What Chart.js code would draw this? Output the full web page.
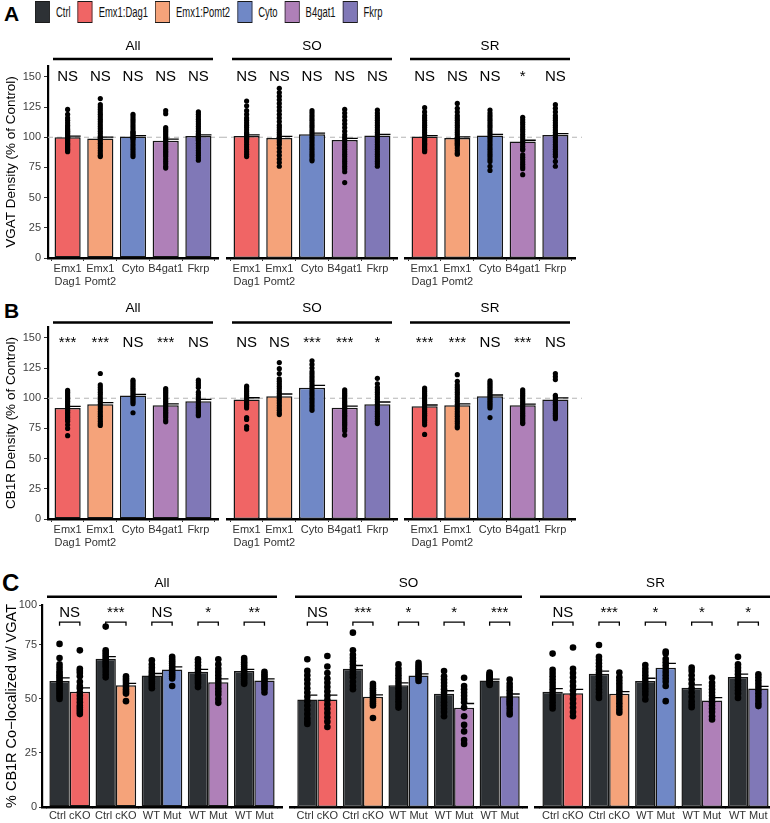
<!DOCTYPE html>
<html>
<head>
<meta charset="utf-8">
<script src="https://cdn.jsdelivr.net/npm/chart.js@4.4.1/dist/chart.umd.min.js"></script>
<style>
  html, body { margin: 0; padding: 0; background: #fff; }
  body { position: relative; width: 770px; height: 823px; overflow: hidden; font-family: "Liberation Sans", Arial, sans-serif; }
  canvas { position: absolute; }
  .tag { position: absolute; font-weight: bold; color: #000; line-height: 1; }
  #legend { position: absolute; left: 35px; top: 1px; display: flex; align-items: center; transform: scaleX(0.675); transform-origin: 0 0; white-space: nowrap; }
  #legend .sw { box-sizing: border-box; width: 22px; height: 22px; border: 1.5px solid #1a1a1a; margin-right: 9px; }
  #legend .tx { font-size: 14px; margin-right: 10.5px; color: #111; }
</style>
</head>
<body>
<div class="tag" style="left:4px;top:3px;font-size:21px">A</div>
<div class="tag" style="left:4px;top:300px;font-size:21px">B</div>
<div class="tag" style="left:2px;top:571px;font-size:24px">C</div>
<div id="legend"></div>
<script>
// categories / labels
const facets = ['All', 'SO', 'SR'];
const groups = [['Emx1', 'Dag1'], ['Emx1', 'Pomt2'], 'Cyto', 'B4gat1', 'Fkrp'];
const pairLabels = ['Ctrl cKO', 'Ctrl cKO', 'WT Mut', 'WT Mut', 'WT Mut'];
const legendLabels = ['Ctrl', 'Emx1:Dag1', 'Emx1:Pomt2', 'Cyto', 'B4gat1', 'Fkrp'];
const colors = ['#2d3135', '#f06565', '#f5a37a', '#7088c6', '#af80b8', '#8078b7'];
const yTicksAB = [0, 25, 50, 75, 100, 125, 150];
const yTicksC = ['0', '25', '50', '75', '100'];

// A: VGAT density (% of control)
const vgatAllMean = [100, 99, 100.6, 97.2, 101.1];
const vgatSoMean = [101, 99.4, 102.5, 97.8, 101.4];
const vgatSrMean = [100.6, 99.4, 101.4, 96.4, 101.9];
const vgatAllSem = [0.9, 1.1, 0.8, 1.2, 0.9];
const vgatSoSem = [1.0, 1.3, 0.9, 1.3, 1.0];
const vgatSrSem = [0.8, 0.9, 1.0, 1.1, 1.1];
const vgatAllSig = ['NS', 'NS', 'NS', 'NS', 'NS'];
const vgatSoSig = ['NS', 'NS', 'NS', 'NS', 'NS'];
const vgatSrSig = ['NS', 'NS', 'NS', '*', 'NS'];
const vgatAllDots = [
  [123, 119, 116, 114, 112, 110, 108.5, 107, 106, 105, 104, 103, 102, 101, 100, 99, 98, 97, 96, 95, 94, 93, 92, 91, 90, 89, 88],
  [132, 127, 125, 123, 121, 119, 117, 115, 113, 111, 109, 107, 105, 103, 101, 100, 99, 97, 95, 93, 91, 89, 87, 85, 84],
  [119, 117, 115, 113, 111, 109, 107, 105, 104, 103, 102, 101, 100, 99, 98, 96, 94, 92, 90, 88, 86, 84],
  [122, 119.5, 108, 106.5, 105, 103.5, 102, 100.5, 99, 97.5, 96, 94.5, 93, 91.5, 90, 88.5, 87, 85.5, 84, 82, 80, 78, 76, 74.5],
  [121, 119, 117, 115, 113, 111, 109, 107, 105, 103, 102, 101, 100, 99, 98, 97, 95, 93, 91, 89, 87, 85, 83, 81]
];
const vgatSoDots = [
  [130, 126, 122, 119, 116, 114, 112, 110, 108, 106, 104, 103, 102, 101, 100, 99, 98, 96, 94, 92, 90, 88, 86, 84],
  [140.5, 137, 134, 131, 128, 125, 122, 119, 116, 113, 110, 108, 106, 104, 102, 100, 98, 96, 94, 91, 88, 85, 82, 79, 76],
  [122, 120, 118, 116, 114, 112, 110, 108, 106, 104, 102, 100, 98, 96, 94, 92, 90, 88, 86, 84, 82, 80.5],
  [123, 120, 117, 114, 111, 108, 105, 102, 100, 98, 96, 94, 92, 90, 88, 86, 84, 82, 80, 78, 76, 74, 71.5, 62.5],
  [122.5, 120, 118, 116, 114, 112, 110, 108, 106, 104, 102, 100, 98, 96, 94, 92, 90, 88, 86, 84, 82, 80, 78, 76]
];
const vgatSrDots = [
  [124.5, 121, 118, 116, 114, 112, 110, 108, 106, 104, 102, 100, 99, 98, 97, 96, 95, 94, 93, 92, 91, 90, 89, 88],
  [128, 124, 121, 118, 116, 114, 112, 110, 108, 106, 104, 102, 100, 99, 98, 97, 96, 95, 94, 93, 91, 89, 87, 86],
  [122.5, 120, 118, 116, 114, 112, 110, 108, 106, 104, 102, 100, 98, 96, 94, 92, 90, 88, 86, 84, 82, 80, 76, 72.5],
  [116.5, 114.5, 112.5, 110.5, 108.5, 106.5, 104.5, 102.5, 100.5, 98.5, 96.5, 94.5, 92.5, 90.5, 89.5, 85.5, 83.5, 81.5, 79.5, 77.5, 75.5, 74, 69],
  [127, 124, 121, 118, 116, 114, 112, 110, 108, 106, 104, 102, 100, 98, 96, 94, 92, 90, 88, 86, 84, 80, 76]
];

// B: CB1R density (% of control)
const cb1rAllMean = [91.9, 95, 102.2, 94.2, 97.5];
const cb1rSoMean = [98.9, 101.7, 108.6, 92.2, 95];
const cb1rSrMean = [93.3, 94.2, 101.7, 94.2, 98.9];
const cb1rAllSem = [1.3, 1.4, 1.0, 1.1, 1.5];
const cb1rSoSem = [1.5, 1.8, 2.0, 1.3, 1.9];
const cb1rSrSem = [1.1, 1.2, 1.0, 0.9, 1.4];
const cb1rAllSig = ['***', '***', 'NS', '***', 'NS'];
const cb1rSoSig = ['NS', 'NS', '***', '***', '*'];
const cb1rSrSig = ['***', '***', 'NS', '***', 'NS'];
const cb1rAllDots = [
  [106.5, 105, 103.5, 102, 100.5, 99, 97.5, 96, 94.5, 93, 91.5, 90, 88.5, 87, 85.5, 84, 82.5, 81, 78, 75, 69],
  [120.5, 111, 109, 107, 105, 103, 101, 99, 97, 95, 93, 91, 89, 87, 85, 83, 81, 79, 77.5],
  [115, 113.5, 112, 110.5, 109, 107.5, 106, 104.5, 103, 101.5, 100, 98.5, 97, 95.5, 88],
  [108, 106.5, 105, 103.5, 102, 100.5, 99, 97.5, 96, 94.5, 93, 91.5, 90, 88.5, 87, 85.5, 84, 82, 80.5],
  [115, 113, 111, 109, 105, 103, 101, 99, 97, 95.5, 94, 92.5, 91, 89.5, 88, 86.5, 85.5]
];
const cb1rSoDots = [
  [110, 108.5, 107, 105.5, 104, 102.5, 101, 99.5, 98, 96.5, 95, 93.5, 92, 84, 82.5, 76.5, 74.5],
  [129.5, 124.5, 120.5, 116, 114, 112, 110, 108, 106, 104, 102, 100, 98, 96, 94, 92, 90, 88, 86.5],
  [131, 128, 125, 122, 120, 118, 116, 114, 112, 110, 108, 106, 104, 102, 100, 98, 96, 94, 92, 90],
  [107, 105.5, 104, 102.5, 101, 99.5, 98, 96.5, 95, 93.5, 92, 90.5, 89, 87.5, 86, 84.5, 83, 81.5, 80, 78.5, 77, 75, 73, 69.5],
  [116.5, 112, 109, 107, 105, 103, 101, 99, 97, 95, 93, 91, 89, 87, 85, 83, 81, 79]
];
const cb1rSrDots = [
  [108.5, 107, 105.5, 104, 102.5, 101, 99.5, 98, 96.5, 95, 93.5, 92, 90.5, 89, 87.5, 86, 84.5, 83, 81.5, 80, 78, 70],
  [119.5, 114, 111, 109, 107, 105, 103, 101, 99, 97, 95, 93, 91, 89, 87, 85, 83, 81, 79, 77, 75.5],
  [114.5, 113, 111.5, 110, 108.5, 107, 105.5, 104, 102.5, 101, 99.5, 98, 96.5, 95, 93.5, 92, 84],
  [107, 105.5, 104, 102.5, 101, 99.5, 98, 96.5, 95, 93.5, 92, 90.5, 89, 87.5, 86, 84.5, 83, 81.5, 80, 79],
  [120.5, 118, 115.5, 102.5, 101, 99.5, 98, 96.5, 95, 93.5, 92, 90.5, 89, 87.5, 86, 84.5, 83]
];

// C: % CB1R co-localized with VGAT (control vs mutant pairs)
const colAllCtrl = [58.3, 68.6, 60.9, 62.6, 62.9];
const colAllMut = [53.3, 56.4, 63.7, 57.8, 58.6];
const colSoCtrl = [49.8, 64, 56.3, 52.4, 58.6];
const colSoMut = [49.8, 51, 60.9, 45.9, 51.3];
const colSrCtrl = [53.3, 61.7, 58.3, 55.2, 60.2];
const colSrMut = [52.6, 52.4, 64.5, 49.3, 54.9];
const colAllCtrlSem = [1.5, 1.0, 0.9, 1.1, 0.8];
const colAllMutSem = [1.8, 0.8, 1.2, 1.5, 0.7];
const colSoCtrlSem = [2.0, 1.5, 1.2, 1.4, 0.6];
const colSoMutSem = [2.0, 0.9, 0.7, 2.0, 1.0];
const colSrCtrlSem = [1.5, 1.2, 1.3, 1.3, 1.3];
const colSrMutSem = [1.8, 1.0, 2.0, 1.3, 0.9];
const colAllSig = ['NS', '***', 'NS', '*', '**'];
const colSoSig = ['NS', '***', '*', '*', '***'];
const colSrSig = ['NS', '***', '*', '*', '*'];
const colAllCtrlDots = [
  [75.5, 69, 66, 64.5, 63, 62, 61, 60, 59, 58, 57, 56, 55, 54, 53, 52, 51, 50],
  [83.5, 72.5, 71.5, 70.5, 69.5, 68.5, 67.5, 66.5, 65.5, 64.5, 63, 61.5, 60],
  [67.9, 66, 64.5, 63, 62, 61, 60, 59, 58, 57, 56, 55],
  [68.4, 67, 65.5, 64, 62.5, 61, 60, 59, 58, 57, 55.5],
  [69, 68, 67, 66, 65, 64, 63, 62, 61, 60, 59, 58, 57]
];
const colAllMutDots = [
  [72.5, 64, 63, 62, 60.5, 58, 56, 55, 53, 51.5, 50, 48.5, 47, 46, 45, 44, 43],
  [60.5, 59.5, 58.5, 57.5, 56.5, 55.5, 54.5, 53.5, 52.5, 49],
  [69.5, 68.5, 67.5, 66.5, 65.5, 64.5, 63.5, 62.5, 61.5, 60.5, 59.5, 56],
  [68.4, 66, 64, 62.5, 61, 59.5, 58, 56.5, 55, 53.5, 52, 50, 48.2],
  [62.6, 61.5, 60.5, 59.5, 58.5, 57.5, 56.5, 55.5, 54.5, 53]
];
const colSoCtrlDots = [
  [68.4, 63, 61, 59, 57, 55, 53, 51, 49, 47, 45, 43, 41, 39.5, 38.4],
  [80.7, 72.5, 70.5, 69, 67.5, 66, 64.5, 63, 61.5, 60, 58, 56, 54.5],
  [66, 64, 62.5, 61, 59.5, 58, 56.5, 55, 53.5, 52, 50.5, 49, 47.5, 46],
  [62.9, 60.5, 59, 57.5, 56, 54.5, 53, 51.5, 50, 48.5, 47, 45.5, 44, 42],
  [62.2, 61.5, 61, 60.5, 60, 59.5, 59, 58.5, 58, 57.5, 57, 56.5]
];
const colSoMutDots = [
  [69.9, 65, 62, 59.5, 57.5, 55.5, 53.5, 51.5, 49.5, 47.5, 45.5, 43.5, 41.5, 39.5, 37],
  [57, 56, 55, 54, 53, 52, 51, 50, 49, 48, 47, 41.2],
  [66.7, 65.5, 64.5, 63.5, 62.5, 61.5, 60.5, 59.5, 58.3],
  [59.8, 56, 54.5, 53, 51.5, 50, 48.5, 46, 42, 38, 35, 31, 29.2],
  [59, 57, 55.5, 54, 52.5, 51, 50, 49, 48, 47, 45.5, 44, 42.8]
];
const colSrCtrlDots = [
  [71, 63.5, 62, 60.5, 59, 57.5, 56, 54.5, 53, 51.5, 50, 48.5, 47, 45.6],
  [75, 69.5, 68, 66.5, 65, 63.5, 62, 60.5, 59, 57.5, 56, 54.5, 53, 51.5, 50.5],
  [65.7, 64, 62.5, 61, 59.5, 58, 56.5, 55, 53.5, 52, 49.8],
  [64.5, 63, 61, 59, 57, 55, 53, 51, 49, 47.5, 46.2],
  [69.5, 66, 64.5, 63, 61.5, 60, 58.5, 57, 55.5, 54, 52.5, 50.5]
];
const colSrMutDots = [
  [73.8, 64, 62, 60, 58, 56, 54, 52, 50, 48, 46, 44, 42],
  [62.2, 60, 58.5, 57, 55.5, 54, 52.5, 51, 49.5, 48, 46.5, 45, 43.6],
  [72, 71, 68.5, 67, 65.5, 64, 62.5, 61, 59.5, 58, 56, 49],
  [59.8, 57.5, 56, 54.5, 53, 51.5, 50, 48.5, 47, 45.5, 44, 42, 40.5],
  [61.4, 60, 58.5, 57, 55.5, 54, 52.5, 51, 49.5, 48, 46.7]
];

Chart.defaults.font.family = '"Liberation Sans", Arial, sans-serif';
Chart.defaults.color = '#3a3a3a';

// legend (squeezed horizontally like the original figure)
const legend = document.getElementById('legend');
legendLabels.forEach((name, i) => {
  const sw = document.createElement('div');
  sw.className = 'sw';
  sw.style.background = colors[i];
  const tx = document.createElement('div');
  tx.className = 'tx';
  tx.textContent = name;
  legend.appendChild(sw);
  legend.appendChild(tx);
});

const FONT = '"Liberation Sans", Arial, sans-serif';

const deco = {
  id: 'deco',
  beforeDatasetsDraw(chart, args, o) {
    if (o.refY === undefined) return;
    const { ctx, chartArea: a } = chart;
    const py = chart.scales.y.getPixelForValue(o.refY);
    ctx.save();
    ctx.strokeStyle = '#b5b5b5';
    ctx.lineWidth = 1.1;
    ctx.setLineDash([5, 4]);
    ctx.beginPath();
    ctx.moveTo(o.first ? a.left : 0, py);
    ctx.lineTo(o.last ? a.right + 7 : chart.width, py);
    ctx.stroke();
    ctx.restore();
  },
  afterDatasetsDraw(chart, args, o) {
    const { ctx, chartArea: a } = chart;
    const x = chart.scales.x, y = chart.scales.y;
    ctx.save();
    // facet strip
    const ly = a.top - o.lineGap;
    ctx.strokeStyle = '#000';
    ctx.lineWidth = 2.6;
    ctx.beginPath();
    ctx.moveTo(a.left + 5, ly);
    ctx.lineTo(a.right - 5, ly);
    ctx.stroke();
    ctx.fillStyle = '#000';
    ctx.textAlign = 'center';
    ctx.textBaseline = 'middle';
    ctx.font = '13.5px ' + FONT;
    ctx.fillText(o.title, (a.left + a.right) / 2, ly - o.textGap);
    // error bars (mean + sem)
    ctx.lineWidth = 1.3;
    chart.data.datasets.forEach((ds, di) => {
      if (!ds.sem) return;
      chart.getDatasetMeta(di).data.forEach((bar, i) => {
        const top = y.getPixelForValue(ds.data[i].y + ds.sem[i]);
        ctx.beginPath();
        ctx.moveTo(bar.x, bar.y);
        ctx.lineTo(bar.x, top);
        ctx.lineTo(bar.x + bar.width / 2, top);
        ctx.stroke();
      });
    });
    // significance
    ctx.font = '15px ' + FONT;
    if (o.pairs) {
      const m0 = chart.getDatasetMeta(0).data, m1 = chart.getDatasetMeta(1).data;
      const by = y.getPixelForValue(o.bracketY), ty = y.getPixelForValue(o.bracketTip);
      ctx.lineWidth = 1.3;
      o.sig.forEach((s, i) => {
        ctx.beginPath();
        ctx.moveTo(m0[i].x, ty);
        ctx.lineTo(m0[i].x, by);
        ctx.lineTo(m1[i].x, by);
        ctx.lineTo(m1[i].x, ty);
        ctx.stroke();
        ctx.fillText(s, (m0[i].x + m1[i].x) / 2, y.getPixelForValue(o.sigY));
      });
    } else {
      o.sig.forEach((s, i) => ctx.fillText(s, x.getPixelForValue(i), y.getPixelForValue(o.sigY)));
    }
    ctx.restore();
  }
};

function addCanvas(left, top, width, height) {
  const cv = document.createElement('canvas');
  cv.width = width;
  cv.height = height;
  cv.style.left = left + 'px';
  cv.style.top = top + 'px';
  cv.style.width = width + 'px';
  cv.style.height = height + 'px';
  document.body.appendChild(cv);
  return cv;
}

function yAxis(show, max, title, opts) {
  if (!show) return { min: 0, max: max, display: false };
  return {
    min: 0, max: max,
    afterBuildTicks: opts.ticks,
    afterFit: s => { s.width = opts.width; },
    ticks: { color: '#3f3f3f', font: { size: 11 }, padding: opts.pad, callback: opts.cb },
    grid: { drawOnChartArea: false, tickLength: opts.tick, tickColor: '#333', tickWidth: 1 },
    border: { color: '#000', width: 2.2 },
    title: { display: true, text: title, color: '#000', font: { size: opts.titleSize }, padding: { top: 3, bottom: 0 } }
  };
}

function xAxis(labels, height, tick, pad) {
  return {
    type: 'linear', min: -0.6, max: labels.length - 0.4, offset: false,
    afterBuildTicks: s => { s.ticks = labels.map((_, i) => ({ value: i })); },
    afterFit: s => { s.height = height; },
    ticks: { callback: v => labels[v], color: '#333', font: { size: 11 }, padding: pad, autoSkip: false, maxRotation: 0, minRotation: 0 },
    grid: { drawOnChartArea: false, tickLength: tick, tickColor: '#333', tickWidth: 1 },
    border: { color: '#000', width: 2.6 }
  };
}

// panels A and B: one chart per facet
const geoAB = [
  { left: 0, width: 222, padL: 0, padR: 4 },
  { left: 222, width: 179, padL: 5, padR: 4 },
  { left: 401, width: 184, padL: 4, padR: 10 }
];

function densityPanel(top, title, means, sems, sigs, dots, lineGap, textGap, sigY) {
  facets.forEach((fname, f) => {
    const g = geoAB[f];
    const cv = addCanvas(g.left, top, g.width, 260);
    new Chart(cv, {
      type: 'bar',
      data: {
        datasets: [
          {
            type: 'scatter', order: 1,
            data: dots[f].flatMap((arr, i) => arr.map(v => ({ x: i, y: v }))),
            pointRadius: 2.6, backgroundColor: '#000', borderWidth: 0
          },
          {
            type: 'bar', order: 2,
            data: means[f].map((v, i) => ({ x: i, y: v })),
            sem: sems[f],
            backgroundColor: colors.slice(1),
            borderColor: '#151515', borderWidth: 1.5, borderSkipped: false,
            barPercentage: 0.8, categoryPercentage: 1
          }
        ]
      },
      options: {
        responsive: false, animation: false, events: [],
        layout: { padding: { left: g.padL, right: g.padR, top: 36, bottom: 0 } },
        scales: {
          x: xAxis(groups, 32, 3, 1),
          y: yAxis(f === 0, 159, title, {
            width: 48, pad: 3, tick: 4, titleSize: 13.5,
            ticks: s => { s.ticks = yTicksAB.map(v => ({ value: v })); }
          })
        },
        plugins: {
          legend: { display: false }, tooltip: { enabled: false },
          deco: { title: fname, lineGap: lineGap, textGap: textGap, refY: 100, first: f === 0, last: f === 2, sig: sigs[f], sigY: sigY }
        }
      },
      plugins: [deco]
    });
  });
}

densityPanel(30, 'VGAT Density (% of Control)',
  [vgatAllMean, vgatSoMean, vgatSrMean], [vgatAllSem, vgatSoSem, vgatSrSem],
  [vgatAllSig, vgatSoSig, vgatSrSig], [vgatAllDots, vgatSoDots, vgatSrDots], 7, 12.5, 150);

densityPanel(291, 'CB1R Density (% of Control)',
  [cb1rAllMean, cb1rSoMean, cb1rSrMean], [cb1rAllSem, cb1rSoSem, cb1rSrSem],
  [cb1rAllSig, cb1rSoSig, cb1rSrSig], [cb1rAllDots, cb1rSoDots, cb1rSrDots], 4.5, 14.5, 145.5);

// panel C: grouped control/mutant pairs
const geoC = [
  { left: 0, width: 286, padL: 0, padR: 1 },
  { left: 286, width: 245, padL: 1, padR: 1 },
  { left: 531, width: 250, padL: 2, padR: 5 }
];
const catPct = 0.88;
const cCtrl = [colAllCtrl, colSoCtrl, colSrCtrl];
const cMut = [colAllMut, colSoMut, colSrMut];
const cCtrlSem = [colAllCtrlSem, colSoCtrlSem, colSrCtrlSem];
const cMutSem = [colAllMutSem, colSoMutSem, colSrMutSem];
const cSig = [colAllSig, colSoSig, colSrSig];
const cCtrlDots = [colAllCtrlDots, colSoCtrlDots, colSrCtrlDots];
const cMutDots = [colAllMutDots, colSoMutDots, colSrMutDots];

facets.forEach((fname, f) => {
  const g = geoC[f];
  const cv = addCanvas(g.left, 560, g.width, 263);
  const shift = catPct / 4;
  new Chart(cv, {
    type: 'bar',
    data: {
      datasets: [
        {
          type: 'bar', order: 2,
          data: cCtrl[f].map((v, i) => ({ x: i, y: v })), sem: cCtrlSem[f],
          backgroundColor: colors[0], borderColor: '#151515', borderWidth: 1.5, borderSkipped: false,
          barPercentage: 1, categoryPercentage: catPct
        },
        {
          type: 'bar', order: 2,
          data: cMut[f].map((v, i) => ({ x: i, y: v })), sem: cMutSem[f],
          backgroundColor: colors.slice(1), borderColor: '#151515', borderWidth: 1.5, borderSkipped: false,
          barPercentage: 1, categoryPercentage: catPct
        },
        {
          type: 'scatter', order: 1,
          data: cCtrlDots[f].flatMap((arr, i) => arr.map(v => ({ x: i - shift, y: v }))),
          pointRadius: 3.3, backgroundColor: '#000', borderWidth: 0
        },
        {
          type: 'scatter', order: 1,
          data: cMutDots[f].flatMap((arr, i) => arr.map(v => ({ x: i + shift, y: v }))),
          pointRadius: 3.3, backgroundColor: '#000', borderWidth: 0
        }
      ]
    },
    options: {
      responsive: false, animation: false, events: [],
      layout: { padding: { left: g.padL, right: g.padR, top: 45, bottom: 0 } },
      scales: {
        x: xAxis(pairLabels, 16, 2, 0),
        y: yAxis(f === 0, 93.5, '% CB1R Co\u2212localized w/ VGAT', {
          width: 42, pad: 2, tick: 3, titleSize: 14.5,
          ticks: s => { s.ticks = [0, 25, 50, 75, s.max].map(v => ({ value: v })); },
          cb: (v, i) => yTicksC[i]
        })
      },
      plugins: {
        legend: { display: false }, tooltip: { enabled: false },
        deco: { title: fname, lineGap: 8.3, textGap: 13.5, sig: cSig[f], pairs: true, sigY: 89.8, bracketY: 85.6, bracketTip: 83.9 }
      }
    },
    plugins: [deco]
  });
});
</script>
</body>
</html>
